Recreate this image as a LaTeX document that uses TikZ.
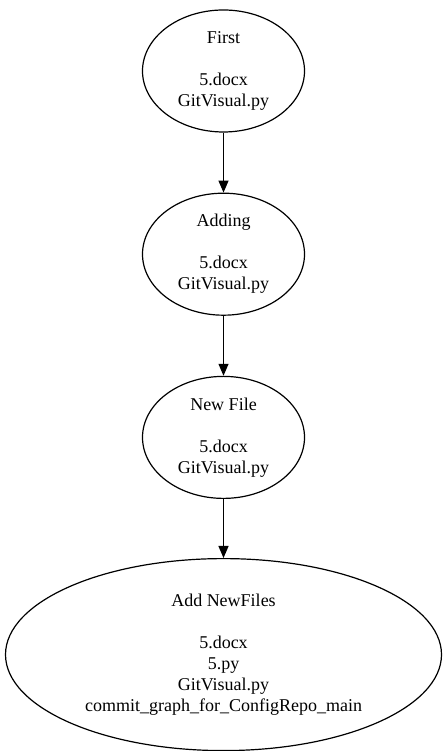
\documentclass[tikz,border=0pt]{standalone}
\usepackage{fontspec}
\setmainfont{Liberation Serif}
\usetikzlibrary{shapes.geometric,arrows.meta,positioning}

\begin{document}
\begin{tikzpicture}[
  x=1pt,y=1pt,
  commit/.style={draw,ellipse,line width=1.2pt,inner sep=0pt,align=center,
    minimum width=162pt,minimum height=122pt,
    font=\fontsize{18}{21}\selectfont},
  arr/.style={-{Triangle[length=12pt,width=10pt]},line width=1.2pt},
  node distance=60pt,
]
  \useasboundingbox (0,0) rectangle (447,751);
  \node[commit] (first) at (223.5,680) {First\\[21pt]5.docx\\GitVisual.py};
  \node[commit,below=of first] (adding) {Adding\\[21pt]5.docx\\GitVisual.py};
  \node[commit,below=of adding] (newfile) {New File\\[21pt]5.docx\\GitVisual.py};
  \node[commit,below=59pt of newfile,minimum width=436pt,minimum height=192pt] (addnew)
    {Add NewFiles\\[21pt]5.docx\\5.py\\GitVisual.py\\commit\_graph\_for\_ConfigRepo\_main};
  \draw[arr] (first) -- (adding); \draw[arr] (adding) -- (newfile); \draw[arr] (newfile) -- (addnew);
\end{tikzpicture}
\end{document}
